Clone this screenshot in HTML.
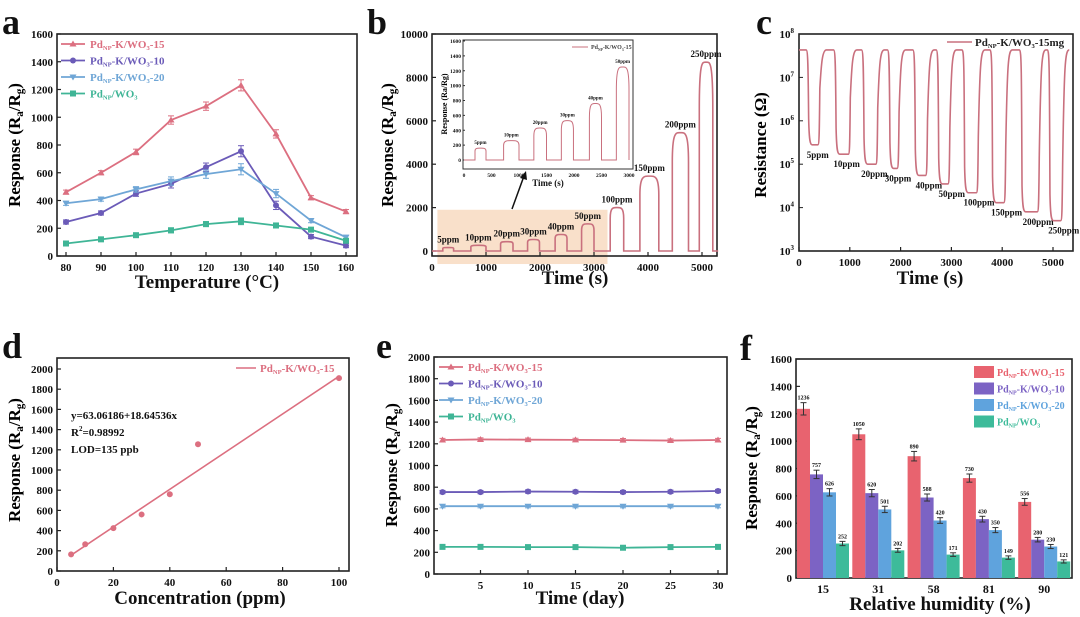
<!DOCTYPE html>
<html><head><meta charset="utf-8">
<style>
html,body{margin:0;padding:0;background:#fff;}
svg{display:block;font-family:"Liberation Serif",serif;font-weight:bold;}
</style></head>
<body>
<svg id="fig" width="1080" height="617" viewBox="0 0 1080 617" xmlns="http://www.w3.org/2000/svg"></svg>
<script>
// ---------- DATA ----------
const aTemps=[80,90,100,110,120,130,140,150,160];
const a15=[460,600,750,980,1080,1230,880,420,320];
const a10=[245,310,450,520,640,755,365,140,75];
const a20=[380,410,480,540,590,625,450,255,135];
const aWO3=[90,120,150,185,230,250,220,190,110];
const aErr=[15,15,20,30,30,40,30,15,15];

const bConc=["5ppm","10ppm","20ppm","30ppm","40ppm","50ppm","100ppm","150ppm","200ppm","250ppm"];
const bPeak=[160,260,430,530,760,1250,2000,3450,5450,8700];
const bStart=[200,720,1270,1770,2280,2770,3300,3850,4450,4950];
const bEnd=[400,1000,1500,1990,2500,3000,3550,4200,4750,5200];

const cConc=["5ppm","10ppm","20ppm","30ppm","40ppm","50ppm","100ppm","150ppm","200ppm","250ppm"];
const cMin=[2.8e5,1.7e5,1.0e5,8e4,5.5e4,3.5e4,2.2e4,1.3e4,8e3,5e3];
const cStart=[180,720,1270,1780,2280,2740,3250,3800,4380,4930];
const cEnd=[400,1000,1540,1960,2520,2960,3520,4060,4720,5180];
const cBase=4.3e7;

const dConc=[5,10,20,30,40,50,100];
const dResp=[165,265,425,560,760,1255,1910];
const dIntercept=63.06186, dSlope=18.64536;

const eDays=[1,5,10,15,20,25,30];
const e15=[1235,1240,1238,1236,1234,1230,1235];
const e10=[755,755,760,758,755,758,765];
const e20=[625,625,625,625,625,625,625];
const eWO3=[250,250,248,248,242,248,250];

const fRH=["15","31","58","81","90"];
const f15=[1236,1050,890,730,556];
const f10=[757,620,588,430,280];
const f20=[626,501,420,350,230];
const fWO3=[252,202,171,149,121];

// ---------- HELPERS ----------
const NS="http://www.w3.org/2000/svg";
const svg=document.getElementById('fig');
const C15="#dc6f80",C10="#6b5bb8",C20="#6fa6d6",CW="#3fb596";
const F15="#e8636f",F10="#7c63c4",F20="#5fa3dd",FW="#3dbb9a";
function el(tag,attrs,parent){const e=document.createElementNS(NS,tag);for(const k in attrs)e.setAttribute(k,attrs[k]);(parent||svg).appendChild(e);return e;}
function lin(d0,d1,r0,r1){return v=>r0+(v-d0)*(r1-r0)/(d1-d0);}
function txt(x,y,s,size,anchor,parent,fill){const t=el('text',{x:x,y:y,'font-size':size,'text-anchor':anchor||'middle',fill:fill||'#111'},parent);t.textContent=s;return t;}
function legendText(x,y,suffix,size,color,parent){
  const t=el('text',{x:x,y:y,'font-size':size,fill:color},parent);
  t.appendChild(document.createTextNode('Pd'));
  const s1=el('tspan',{'font-size':size*0.6,dy:2},t);s1.textContent='NP';
  const s2=el('tspan',{dy:-2},t);s2.textContent=suffix[0];
  if(suffix.length>1){const s3=el('tspan',{'font-size':size*0.6,dy:2},t);s3.textContent=suffix[1];
   const s4=el('tspan',{dy:-2},t);s4.textContent=suffix[2];}
  return t;
}
function yTitle(x,y,parent,size){
  const t=el('text',{x:0,y:0,'font-size':size,'text-anchor':'middle',transform:`translate(${x},${y}) rotate(-90)`},parent);
  t.appendChild(document.createTextNode('Response (R'));
  const a=el('tspan',{'font-size':size*0.65,dy:3},t);a.textContent='a';
  const b=el('tspan',{dy:-3},t);b.textContent='/R';
  const g=el('tspan',{'font-size':size*0.65,dy:3},t);g.textContent='g';
  const c=el('tspan',{dy:-3},t);c.textContent=')';
  return t;
}
function frame(g,L,T,R,B){el('rect',{x:L,y:T,width:R-L,height:B-T,fill:'none',stroke:'#222','stroke-width':1.6},g);}
function yTicks(g,L,ys,vals,fs){vals.forEach(v=>{const y=ys(v);el('line',{x1:L,y1:y,x2:L+4,y2:y,stroke:'#222','stroke-width':1.2},g);txt(L-4,y+4,String(v),fs,'end',g);});}
function xTicks(g,B,xs,vals,fs){vals.forEach(v=>{const x=xs(v);el('line',{x1:x,y1:B,x2:x,y2:B-4,stroke:'#222','stroke-width':1.2},g);txt(x,B+15,String(v),fs,'middle',g);});}
function marker(g,type,x,y,c){
  if(type==='tu')el('polygon',{points:`${x},${y-3.5} ${x-3.5},${y+2.5} ${x+3.5},${y+2.5}`,fill:c},g);
  else if(type==='td')el('polygon',{points:`${x},${y+3.5} ${x-3.5},${y-2.5} ${x+3.5},${y-2.5}`,fill:c},g);
  else if(type==='c')el('circle',{cx:x,cy:y,r:3,fill:c},g);
  else el('rect',{x:x-3,y:y-3,width:6,height:6,fill:c},g);
}
function series(g,xsArr,ysArr,xs,ys,c,type,err,name){
  const pts=xsArr.map((v,i)=>xs(v)+','+ys(ysArr[i])).join(' ');
  const pl=el('polyline',{points:pts,fill:'none',stroke:c,'stroke-width':1.8},g);
  
  
  xsArr.forEach((v,i)=>{
    const x=xs(v),y=ys(ysArr[i]);
    if(err){const e=err[i];el('line',{x1:x,y1:ys(ysArr[i]+e),x2:x,y2:ys(ysArr[i]-e),stroke:c,'stroke-width':1},g);
      el('line',{x1:x-3,y1:ys(ysArr[i]+e),x2:x+3,y2:ys(ysArr[i]+e),stroke:c,'stroke-width':1},g);
      el('line',{x1:x-3,y1:ys(ysArr[i]-e),x2:x+3,y2:ys(ysArr[i]-e),stroke:c,'stroke-width':1},g);}
    marker(g,type,x,y,c);
  });
}
function panelLetter(x,y,s){const t=txt(x,y,s,36,'start');}
function fourLegend(g,x,y0,dy,lineLen,fs){
  const items=[[C15,'tu',['-K/WO','3','-15']],[C10,'c',['-K/WO','3','-10']],[C20,'td',['-K/WO','3','-20']],[CW,'s',['/WO','3','']]];
  items.forEach((it,i)=>{const y=y0+i*dy;
    el('line',{x1:x,y1:y,x2:x+lineLen,y2:y,stroke:it[0],'stroke-width':1.8},g);
    marker(g,it[1],x+lineLen/2,y,it[0]);
    legendText(x+lineLen+5,y+4,it[2],fs,it[0],g);});
}

// ---------- PANEL A ----------
panelLetter(2,34,'a');
(function(){
  const g=el('g',{});
  const L=57,T=34,R=357,B=256;
  const xs=lin(80,160,66,346), ys=lin(0,1600,B,T);
  frame(g,L,T,R,B);
  yTicks(g,L,ys,[0,200,400,600,800,1000,1200,1400,1600],11);
  xTicks(g,B,xs,aTemps,11);
  yTitle(20,145,g,17);
  txt(207,288,'Temperature (°C)',19,'middle',g);
  series(g,aTemps,a15,xs,ys,C15,'tu',aErr,'series-a-15');
  series(g,aTemps,a10,xs,ys,C10,'c',aErr,'series-a-10');
  series(g,aTemps,a20,xs,ys,C20,'td',aErr,'series-a-20');
  series(g,aTemps,aWO3,xs,ys,CW,'s',aErr.map(e=>e*0.6),'series-a-wo3');
  const lg=el('g',{},g);
  fourLegend(lg,61,44,16.5,24,11);
})();

// ---------- PANEL B ----------
panelLetter(367,34,'b');
function pulsePath(xs,ys,starts,ends,peaks,tEnd,base){
  let d=`M${xs(0)},${ys(base)}`;
  starts.forEach((s,i)=>{
    const e=ends[i],p=peaks[i],w=e-s;
    d+=` L${xs(s)},${ys(base)} L${xs(s)},${ys(p*0.75)}`;
    d+=` C${xs(s)},${ys(p*1.02)} ${xs(s+w*0.25)},${ys(p)} ${xs(s+w*0.5)},${ys(p)}`;
    d+=` C${xs(e-w*0.25)},${ys(p)} ${xs(e)},${ys(p*1.02)} ${xs(e)},${ys(p*0.75)}`;
    d+=` L${xs(e)},${ys(base)}`;
  });
  d+=` L${xs(tEnd)},${ys(base)}`;
  return d;
}
(function(){
  const g=el('g',{});
  const L=432,T=34,R=717,B=256;
  const xs=lin(0,5000,432,702), ys=lin(0,10000,251,34);
  const hl=el('rect',{x:xs(100),y:ys(1900),width:xs(3250)-xs(100),height:ys(-600)-ys(1900),fill:'#f6d3b4',opacity:0.7},g);
  
  frame(g,L,T,R,B);
  yTicks(g,L,ys,[0,2000,4000,6000,8000,10000],11);
  xTicks(g,B,xs,[0,1000,2000,3000,4000,5000],11);
  yTitle(393,145,g,17);
  txt(575,284,'Time (s)',19,'middle',g);
  const p=el('path',{d:pulsePath(xs,ys,bStart,bEnd,bPeak,5300,0),fill:'none',stroke:'#c9707e','stroke-width':1.6},g);
  
  bConc.forEach((c,i)=>{const x=xs((bStart[i]+bEnd[i])/2);const y=ys(bPeak[i])-5;txt(x,y,c,9,'middle',g);});
  el('line',{x1:512,y1:209,x2:524,y2:176,stroke:'#111','stroke-width':1.5},g);
  el('polygon',{points:'526,171 520,178 527,180',fill:'#111'},g);
  const ig=el('g',{},g);
  const iL=463,iT=40,iR=633,iB=169;
  const ixs=lin(0,3000,464,629), iys=lin(0,1600,160,41);
  el('rect',{x:iL,y:iT,width:iR-iL,height:iB-iT,fill:'#fff',stroke:'#333','stroke-width':1},ig);
  [0,200,400,600,800,1000,1200,1400,1600].forEach(v=>{txt(iL-2,iys(v)+2,String(v),5.5,'end',ig);el('line',{x1:iL,y1:iys(v),x2:iL+2,y2:iys(v),stroke:'#333'},ig);});
  [0,500,1000,1500,2000,2500,3000].forEach(v=>{txt(ixs(v),iB+8,String(v),5.5,'middle',ig);});
  txt(548,186,'Time (s)',9,'middle',ig);
  const it=el('text',{'font-size':8,'text-anchor':'middle',transform:'translate(447,104) rotate(-90)'},ig);it.textContent='Response (Ra/Rg)';
  el('path',{d:pulsePath(ixs,iys,bStart.slice(0,6),bEnd.slice(0,6),bPeak.slice(0,6),3000,0),fill:'none',stroke:'#c9707e','stroke-width':1},ig);
  bConc.slice(0,6).forEach((c,i)=>txt(ixs((bStart[i]+bEnd[i])/2),iys(bPeak[i])-4,c,5,'middle',ig));
  el('line',{x1:572,y1:47,x2:588,y2:47,stroke:'#c9707e'},ig);
  legendText(591,49,['-K/WO','3','-15'],6,'#444',ig);
})();

// ---------- PANEL C ----------
panelLetter(756,34,'c');
(function(){
  const g=el('g',{});
  const L=799,T=34,R=1073,B=251;
  const xs=lin(0,5000,799,1053);
  const ys=v=>lin(3,8,251,34)(Math.log10(v));
  frame(g,L,T,R,B);
  [3,4,5,6,7,8].forEach(p=>{const y=lin(3,8,251,34)(p);el('line',{x1:L,y1:y,x2:L+4,y2:y,stroke:'#222'},g);
    const t=txt(L-5,y+4,'10',11,'end',g);const s=el('tspan',{'font-size':7,dy:-5},t);s.textContent=p;});
  xTicks(g,B,xs,[0,1000,2000,3000,4000,5000],11);
  const t=el('text',{'font-size':17,'text-anchor':'middle',transform:'translate(766,145) rotate(-90)'},g);t.textContent='Resistance (Ω)';
  txt(930,284,'Time (s)',19,'middle',g);
  let d=`M${xs(0)},${ys(cBase)}`;
  cStart.forEach((s,i)=>{const e=cEnd[i],m=cMin[i];
    d+=` L${xs(s-40)},${ys(cBase)} C${xs(s)},${ys(cBase)} ${xs(s)},${ys(cBase*0.3)} ${xs(s+10)},${ys(m*4)}`;
    d+=` C${xs(s+20)},${ys(m*1.2)} ${xs(s+40)},${ys(m)} ${xs(s+80)},${ys(m)} L${xs(e-30)},${ys(m)}`;
    d+=` C${xs(e)},${ys(m)} ${xs(e)},${ys(m*2)} ${xs(e+10)},${ys(m*20)}`;
    const next=i<cStart.length-1?cStart[i+1]:5400;
    d+=` C${xs(e+40)},${ys(cBase*0.5)} ${xs(e+60)},${ys(cBase)} ${xs(Math.min(e+140,next-60))},${ys(cBase)}`;
  });
  const p=el('path',{d:d,fill:'none',stroke:'#c9707e','stroke-width':1.6},g);
  
  cConc.forEach((c,i)=>txt(xs((cStart[i]+cEnd[i])/2)+ (i>=4?8:4),ys(cMin[i])+13,c,9,'middle',g));
  const lg=el('g',{},g);
  el('line',{x1:947,y1:42,x2:972,y2:42,stroke:'#c9707e','stroke-width':1.6},lg);
  legendText(975,46,['-K/WO','3','-15mg'],11,'#222',lg);
})();

// ---------- PANEL D ----------
panelLetter(2,358,'d');
(function(){
  const g=el('g',{});
  const L=57,T=358,R=349,B=571;
  const xs=lin(0,100,57,339), ys=lin(0,2000,571,369);
  frame(g,L,T,R,B);
  yTicks(g,L,ys,[0,200,400,600,800,1000,1200,1400,1600,1800,2000],11);
  xTicks(g,B,xs,[0,20,40,60,80,100],11);
  yTitle(20,460,g,17);
  txt(200,604,'Concentration (ppm)',19,'middle',g);
  const fl=el('line',{x1:xs(5),y1:ys(dIntercept+dSlope*5),x2:xs(100),y2:ys(dIntercept+dSlope*100),stroke:C15,'stroke-width':1.6},g);
  
  dConc.forEach((v,i)=>{const c=el('circle',{cx:xs(v),cy:ys(dResp[i]),r:3,fill:C15},g);
    });
  txt(71,419,'y=63.06186+18.64536x',11,'start',g);
  const r=txt(71,436,'R',11,'start',g);const s=el('tspan',{'font-size':7,dy:-5},r);s.textContent='2';const s2=el('tspan',{dy:5},r);s2.textContent='=0.98992';
  txt(71,453,'LOD=135 ppb',11,'start',g);
  el('line',{x1:236,y1:368,x2:256,y2:368,stroke:C15,'stroke-width':1.6},g);
  legendText(260,372,['-K/WO','3','-15'],11,C15,g);
})();

// ---------- PANEL E ----------
panelLetter(376,358,'e');
(function(){
  const g=el('g',{});
  const L=434,T=357,R=727,B=574;
  const xs=lin(0,30,433,718), ys=lin(0,2000,574,357);
  frame(g,L,T,R,B);
  yTicks(g,L,ys,[0,200,400,600,800,1000,1200,1400,1600,1800,2000],11);
  xTicks(g,B,xs,[5,10,15,20,25,30],11);
  yTitle(397,465,g,17);
  txt(580,604,'Time (day)',19,'middle',g);
  const er=eDays.map(()=>15);
  series(g,eDays,e15,xs,ys,C15,'tu',er,'series-e-15');
  series(g,eDays,e10,xs,ys,C10,'c',er,'series-e-10');
  series(g,eDays,e20,xs,ys,C20,'td',er,'series-e-20');
  series(g,eDays,eWO3,xs,ys,CW,'s',er,'series-e-wo3');
  const lg=el('g',{},g);
  fourLegend(lg,439,367,16.5,24,11);
})();

// ---------- PANEL F ----------
panelLetter(740,360,'f');
(function(){
  const g=el('g',{});
  const L=796,T=359,R=1072,B=578;
  const ys=lin(0,1600,578,359);
  const g0=797,gap=55.3,bw=13;
  frame(g,L,T,R,B);
  yTicks(g,L,ys,[0,200,400,600,800,1000,1200,1400,1600],11);
  yTitle(757,468,g,17);
  txt(940,610,'Relative humidity (%)',19,'middle',g);
  const sets=[[f15,F15,'15'],[f10,F10,'10'],[f20,F20,'20'],[fWO3,FW,'wo3']];
  fRH.forEach((lab,i)=>{
    const gx=g0+i*gap;
    txt(gx+2*bw,B+15,lab,12,'middle',g);
    sets.forEach((s,j)=>{
      const v=s[0][i],x=gx+j*bw;
      const r=el('rect',{x:x,y:ys(v),width:bw,height:B-ys(v),fill:s[1]},g);
      
      
      const e=v*0.03+8;
      el('line',{x1:x+bw/2,y1:ys(v+e),x2:x+bw/2,y2:ys(v-e),stroke:'#333','stroke-width':1},g);
      el('line',{x1:x+bw/2-3,y1:ys(v+e),x2:x+bw/2+3,y2:ys(v+e),stroke:'#333','stroke-width':1},g);
      el('line',{x1:x+bw/2-3,y1:ys(v-e),x2:x+bw/2+3,y2:ys(v-e),stroke:'#333','stroke-width':1},g);
      txt(x+bw/2,ys(v+e)-3,String(v),6,'middle',g);
    });
  });
  const lg=el('g',{},g);
  [[F15,['-K/WO','3','-15']],[F10,['-K/WO','3','-10']],[F20,['-K/WO','3','-20']],[FW,['/WO','3','']]].forEach((it,i)=>{
    const y=366+i*16.5;
    el('rect',{x:974,y:y,width:20,height:12,fill:it[0]},lg);
    legendText(997,y+10,it[1],10,it[0],lg);
  });
})();
</script>
</body></html>
